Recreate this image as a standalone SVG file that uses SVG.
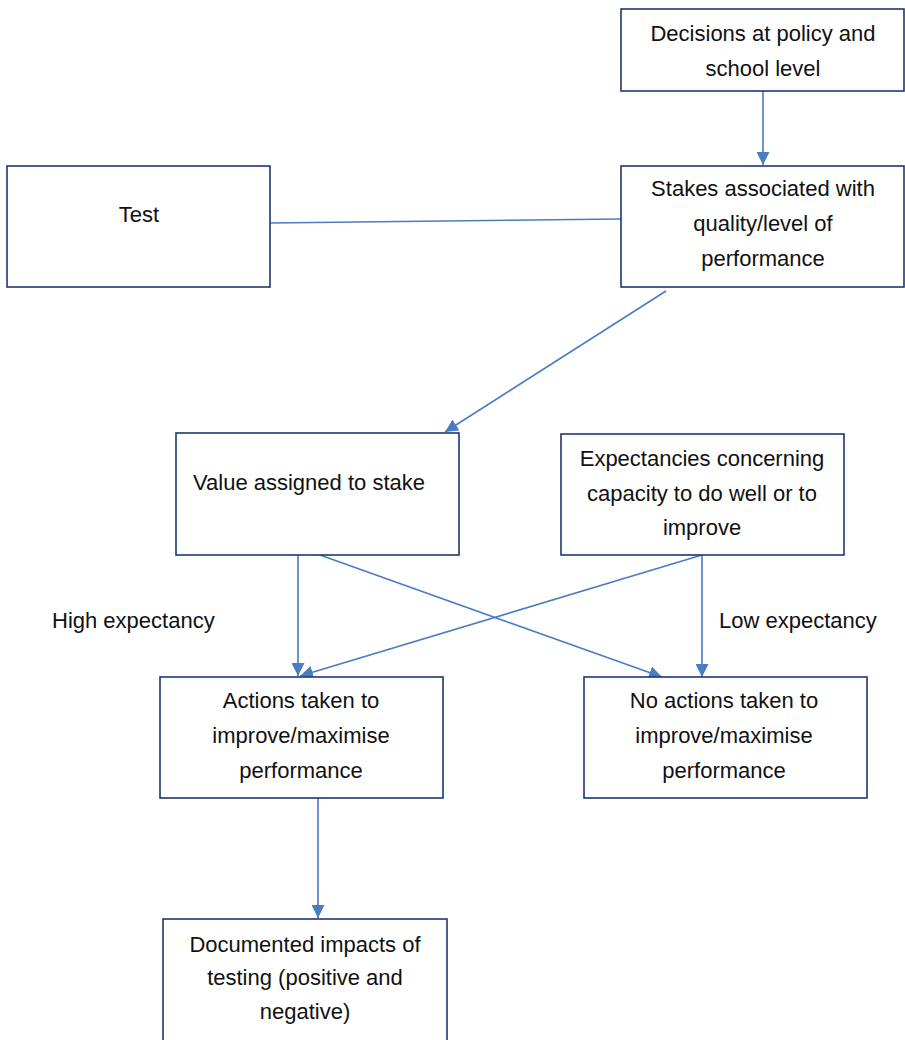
<svg xmlns="http://www.w3.org/2000/svg" width="905" height="1040" viewBox="0 0 905 1040">
<style>
.box{fill:#fff;stroke:#1f3872;stroke-width:1.6}
.t{font-family:"Liberation Sans",Arial,sans-serif;font-size:22px;fill:#111;text-anchor:middle}
.l{font-family:"Liberation Sans",Arial,sans-serif;font-size:22px;fill:#111}
.c{stroke:#4a7cc2;stroke-width:1.6;fill:none}
</style>
<defs>
<marker id="ah2" viewBox="0 0 10 10" refX="10" refY="5" markerWidth="13" markerHeight="13" markerUnits="userSpaceOnUse" orient="auto">
<path d="M0,0 L10,5 L0,10 z" fill="#4a7cc2"/>
</marker>
</defs>
<rect width="905" height="1040" fill="#fff"/>
<g id="connectors">
<line class="c" x1="763" y1="87" x2="763" y2="165" marker-end="url(#ah2)"/>
<line class="c" x1="270" y1="223" x2="621" y2="219"/>
<line class="c" x1="666" y1="291" x2="445" y2="432" marker-end="url(#ah2)"/>
<line class="c" x1="298" y1="555" x2="298" y2="676" marker-end="url(#ah2)"/>
<line class="c" x1="320" y1="555" x2="662" y2="677" marker-end="url(#ah2)"/>
<line class="c" x1="702" y1="555" x2="300" y2="676" marker-end="url(#ah2)"/>
<line class="c" x1="702" y1="555" x2="702" y2="677" marker-end="url(#ah2)"/>
<line class="c" x1="318" y1="798" x2="318" y2="918" marker-end="url(#ah2)"/>
</g>
<g id="decisions">
<rect class="box" x="621" y="9" width="283" height="82"/>
<text class="t" x="763" y="41">Decisions at policy and</text>
<text class="t" x="763" y="76">school level</text>
</g>
<g id="stakes">
<rect class="box" x="621" y="166" width="283" height="121"/>
<text class="t" x="763" y="196">Stakes associated with</text>
<text class="t" x="763" y="231">quality/level of</text>
<text class="t" x="763" y="266">performance</text>
</g>
<g id="test">
<rect class="box" x="7" y="166" width="263" height="121"/>
<text class="t" x="139" y="222">Test</text>
</g>
<g id="value">
<rect class="box" x="176" y="433" width="283" height="122"/>
<text class="l" x="193" y="490">Value assigned to stake</text>
</g>
<g id="expectancies">
<rect class="box" x="561" y="434" width="283" height="121"/>
<text class="t" x="702" y="466">Expectancies concerning</text>
<text class="t" x="702" y="501">capacity to do well or to</text>
<text class="t" x="702" y="535">improve</text>
</g>
<g id="actions">
<rect class="box" x="160" y="677" width="283" height="121"/>
<text class="t" x="301" y="708">Actions taken to</text>
<text class="t" x="301" y="743">improve/maximise</text>
<text class="t" x="301" y="778">performance</text>
</g>
<g id="noactions">
<rect class="box" x="584" y="677" width="283" height="121"/>
<text class="t" x="724" y="708">No actions taken to</text>
<text class="t" x="724" y="743">improve/maximise</text>
<text class="t" x="724" y="778">performance</text>
</g>
<g id="documented">
<rect class="box" x="163" y="919" width="284" height="130"/>
<text class="t" x="305" y="952">Documented impacts of</text>
<text class="t" x="305" y="985">testing (positive and</text>
<text class="t" x="305" y="1019">negative)</text>
</g>
<g id="labels">
<text class="l" x="52" y="628">High expectancy</text>
<text class="l" x="719" y="628">Low expectancy</text>
</g>
</svg>
